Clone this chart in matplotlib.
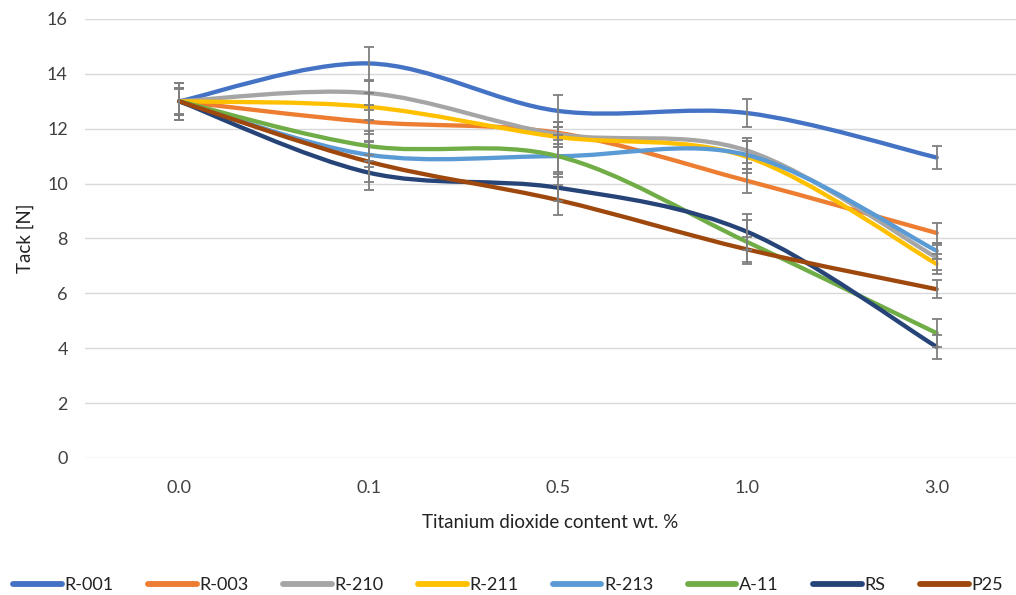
import numpy as np
import matplotlib
matplotlib.use("Agg")
import matplotlib.pyplot as plt
from matplotlib.path import Path
from matplotlib.patches import PathPatch
from matplotlib.lines import Line2D

plt.rcParams['font.family'] = ['Lato', 'DejaVu Sans']

categories = ["0.0", "0.1", "0.5", "1.0", "3.0"]
series_names = ["R-001", "R-003", "R-210", "R-211", "R-213", "A-11", "RS", "P25"]

r001 = [13.0, 14.38, 12.65, 12.57, 10.95]
r003 = [13.0, 12.25, 11.85, 10.10, 8.20]
r210 = [13.0, 13.30, 11.80, 11.20, 7.30]
r211 = [13.0, 12.80, 11.70, 10.97, 7.07]
r213 = [13.0, 11.05, 11.00, 11.04, 7.55]
a11 = [13.0, 11.37, 11.00, 7.87, 4.55]
rs = [13.0, 10.40, 9.85, 8.24, 4.05]
p25 = [13.0, 10.80, 9.40, 7.60, 6.15]

e_r001 = [0.67, 0.60, 0.57, 0.52, 0.42]
e_r003 = [0.45, 0.45, 0.40, 0.44, 0.35]
e_r210 = [0.50, 0.45, 0.45, 0.45, 0.45]
e_r211 = [0.50, 0.50, 0.35, 0.60, 0.35]
e_r213 = [0.50, 0.45, 0.58, 0.50, 0.30]
e_a11 = [0.50, 0.55, 0.76, 0.80, 0.50]
e_rs = [0.67, 0.63, 0.50, 0.65, 0.45]
e_p25 = [0.50, 0.75, 0.54, 0.45, 0.33]

values = [r001, r003, r210, r211, r213, a11, rs, p25]
errors = [e_r001, e_r003, e_r210, e_r211, e_r213, e_a11, e_rs, e_p25]
colors = ["#4472C4", "#ED7D31", "#A5A5A5", "#FFC000", "#5B9BD5", "#70AD47", "#264478", "#9E480E"]

fig = plt.figure(figsize=(10.16, 5.95), dpi=100)
ax = fig.add_axes([0.0832, 0.2303, 0.917, 0.7378])
ax.set_xlim(-0.5, 4.42)
ax.set_ylim(0, 16)

def smooth_path(xs, ys):
    pts = np.column_stack([xs, ys]).astype(float)
    n = len(pts)
    verts = [pts[0]]
    codes = [Path.MOVETO]
    for i in range(n - 1):
        p0 = pts[i - 1] if i > 0 else pts[i]
        p1 = pts[i]
        p2 = pts[i + 1]
        p3 = pts[i + 2] if i + 2 < n else pts[i + 1]
        c1 = p1 + (p2 - p0) / 6.0
        c2 = p2 - (p3 - p1) / 6.0
        verts += [c1, c2, p2]
        codes += [Path.CURVE4] * 3
    return Path(verts, codes)

x = np.arange(len(categories))
for name, ys, es, c in zip(series_names, values, errors, colors):
    patch = PathPatch(smooth_path(x, ys), facecolor='none', edgecolor=c,
                      lw=3.1, capstyle='round', joinstyle='round', zorder=3)
    ax.add_patch(patch)
    ax.errorbar(x, ys, yerr=es, fmt='none', ecolor='#7F7F7F', elinewidth=1.3,
                capsize=3.8, capthick=1.3, zorder=4)

ax.set_yticks(np.arange(0, 17, 2))
ax.set_xticks(x)
ax.set_xticklabels(categories)
ax.grid(axis='y', color='#D9D9D9', lw=1.0)
ax.set_axisbelow(True)
for s in ax.spines.values():
    s.set_visible(False)
ax.tick_params(length=0, labelsize=13, colors='#404040', pad=12)
ax.tick_params(axis='x', pad=16)
ax.set_xlabel("Titanium dioxide content wt. %", fontsize=13.5, color='#222222', labelpad=13)
ax.set_ylabel("Tack [N]", fontsize=13.5, color='#222222', labelpad=9)

handles = [Line2D([], [], color=c, lw=4.2, solid_capstyle='round') for c in colors]
fig.legend(handles, series_names, loc='center', bbox_to_anchor=(0.5, 0.017),
           ncol=8, frameon=False, fontsize=13, handlelength=2.7, handletextpad=0.15,
           columnspacing=1.9, labelcolor='#222222')

fig.savefig("out.png", dpi=100)
